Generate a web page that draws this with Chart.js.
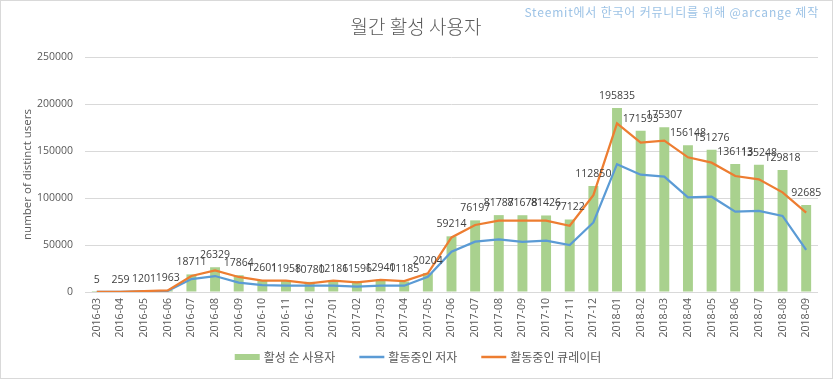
<!DOCTYPE html>
<html>
<head>
<meta charset="utf-8">
<script src="https://cdn.jsdelivr.net/npm/chart.js@4/dist/chart.umd.min.js"></script>
<style>
html,body{margin:0;padding:0;background:#fff;}
#wrap{position:relative;width:833px;height:379px;}
canvas{display:block;}
</style>
</head>
<body>
<div id="wrap"><canvas id="c" width="833" height="379"></canvas></div>
<script>
const months = ["2016-03","2016-04","2016-05","2016-06","2016-07","2016-08","2016-09","2016-10","2016-11","2016-12",
"2017-01","2017-02","2017-03","2017-04","2017-05","2017-06","2017-07","2017-08","2017-09","2017-10","2017-11","2017-12",
"2018-01","2018-02","2018-03","2018-04","2018-05","2018-06","2018-07","2018-08","2018-09"];
const activeUsers = [5,259,1201,1963,18711,26329,17864,12601,11958,10780,12186,11596,12940,11185,20204,59214,76197,81787,81678,81426,77122,112850,195835,171593,175307,156148,151276,136113,135248,129818,92685];
const activeAuthors = [2,150,700,1200,13800,17000,9900,7400,6700,6700,6700,5600,6700,6700,16300,42900,53500,56000,53200,54600,50000,74000,136000,124800,122700,100700,101400,85400,86200,80900,44700];
const activeCurators = [3,220,1000,1700,17000,23000,16000,12000,12000,9200,12000,10300,12800,11700,19900,58000,71300,75900,75900,75900,70500,103000,179400,158900,161000,143300,137600,123400,119900,106000,84400];
const yTicks = [0,50000,100000,150000,200000,250000];
const seriesNames = ["활성 순 사용자","활동중인 저자","활동중인 큐레이터"];
const chartTitle = "월간 활성 사용자";
const watermark = "Steemit에서 한국어 커뮤니티를 위해 @arcange 제작";
const yTitle = "number of distinct users";

const GREEN="#A9D18E", BLUE="#5B9BD5", ORANGE="#ED7D31";
const LATIN='"Open Sans","Noto Sans CJK KR",sans-serif';
const KR='"Noto Sans CJK KR","Open Sans",sans-serif';

const decor = {
  id:'decor',
  afterDatasetsDraw(chart){
    const ctx=chart.ctx, meta=chart.getDatasetMeta(0);
    ctx.save();
    ctx.font='10.5px '+LATIN; ctx.fillStyle='#404040';
    ctx.textAlign='center'; ctx.textBaseline='middle';
    meta.data.forEach((el,i)=>ctx.fillText(String(activeUsers[i]), el.x, el.y-12));
    ctx.restore();
  },
  afterDraw(chart){
    const ctx=chart.ctx;
    ctx.save();
    ctx.strokeStyle='#d9d9d9'; ctx.lineWidth=1;
    ctx.strokeRect(0.5,0.5,832,378);
    ctx.fillStyle='#595959'; ctx.font='300 19px '+KR;
    ctx.textAlign='center'; ctx.textBaseline='middle';
    ctx.fillText(chartTitle, 416, 27);
    ctx.fillStyle='#9DC3E6'; ctx.font='12px '+KR;
    ctx.textAlign='right';
    try{ ctx.letterSpacing='0.8px'; }catch(e){}
    ctx.fillText(watermark, 819, 12);
    try{ ctx.letterSpacing='0px'; }catch(e){}
    ctx.font='12px '+KR; ctx.textAlign='left';
    const sw=25, gap=4, spacing=24, y=357;
    const widths=seriesNames.map(t=>ctx.measureText(t).width);
    const total=widths.reduce((a,w)=>a+sw+gap+w,0)+spacing*2;
    let x=418-total/2;
    seriesNames.forEach((t,i)=>{
      if(i===0){ ctx.fillStyle=GREEN; ctx.fillRect(x,y-3,sw,6); }
      else { ctx.strokeStyle=i===1?BLUE:ORANGE; ctx.lineWidth=2.5; ctx.beginPath(); ctx.moveTo(x,y); ctx.lineTo(x+sw,y); ctx.stroke(); }
      ctx.fillStyle='#595959';
      ctx.fillText(t, x+sw+gap, y);
      x+=sw+gap+widths[i]+spacing;
    });
    ctx.restore();
  }
};

new Chart(document.getElementById('c'), {
  data:{
    labels: months,
    datasets:[
      {type:'bar', label:seriesNames[0], data:activeUsers, backgroundColor:GREEN, barPercentage:0.42, categoryPercentage:1, order:3},
      {type:'line', label:seriesNames[1], data:activeAuthors, borderColor:BLUE, borderWidth:2.25, pointRadius:0, tension:0, order:2},
      {type:'line', label:seriesNames[2], data:activeCurators, borderColor:ORANGE, borderWidth:2.25, pointRadius:0, tension:0, order:1}
    ]
  },
  options:{
    responsive:false, animation:false,
    layout:{padding:{top:57,left:0,right:15,bottom:0}},
    plugins:{legend:{display:false}, tooltip:{enabled:false}, title:{display:false}},
    scales:{
      x:{
        grid:{display:false, drawTicks:false},
        border:{display:false},
        ticks:{minRotation:90, maxRotation:90, autoSkip:false, padding:6, color:'#595959', font:{family:LATIN, size:10.5}},
        afterFit:s=>{s.height=87;}
      },
      y:{
        min:0, max:250000,
        afterBuildTicks:s=>{s.ticks=yTicks.map(v=>({value:v}));},
        grid:{color:'#d9d9d9', drawTicks:false},
        border:{display:false},
        ticks:{padding:12, color:'#595959', font:{family:LATIN, size:10.5}, callback:v=>String(v)},
        title:{display:true, text:yTitle, color:'#595959', font:{family:LATIN, size:11.5}, padding:{top:21,bottom:0}},
        afterFit:s=>{s.width=85;}
      }
    }
  },
  plugins:[decor]
});
</script>
</body>
</html>
